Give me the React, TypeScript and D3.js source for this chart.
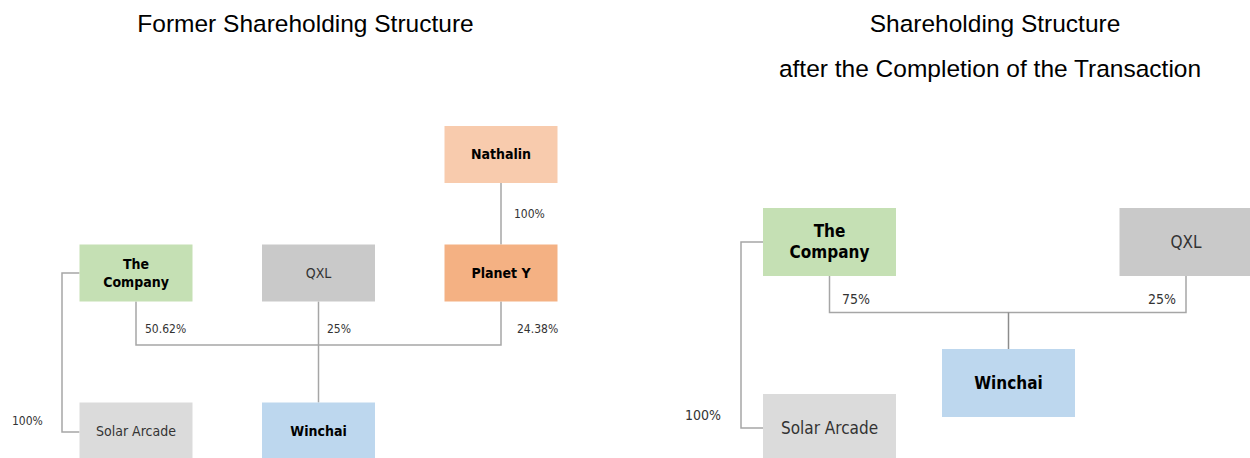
import React from "react";
import * as d3 from "d3";

// ---- data ----
const titles = ["Former Shareholding Structure", "Shareholding Structure", "after the Completion of the Transaction"];
const formerEntities = ["Nathalin", "Planet Y", "The Company", "QXL", "Solar Arcade", "Winchai"];
const formerBold = [true, true, true, false, false, true];
const formerColors = ["#F8CBAD", "#F4B183", "#C5E0B4", "#C9C9C9", "#DBDBDB", "#BDD7EE"];
// stakes: [owner, owned, percent]
const formerStakes: [string, string, string][] = [
  ["Nathalin", "Planet Y", "100%"],
  ["The Company", "Winchai", "50.62%"],
  ["QXL", "Winchai", "25%"],
  ["Planet Y", "Winchai", "24.38%"],
  ["The Company", "Solar Arcade", "100%"],
];
const afterEntities = ["The Company", "QXL", "Winchai", "Solar Arcade"];
const afterBold = [true, false, true, false];
const afterColors = ["#C5E0B4", "#C9C9C9", "#BDD7EE", "#DBDBDB"];
const afterStakes: [string, string, string][] = [
  ["The Company", "Winchai", "75%"],
  ["QXL", "Winchai", "25%"],
  ["The Company", "Solar Arcade", "100%"],
];

// ---- layout ----
const W = 1250, H = 458;
const BOX_FONT = "Tahoma, 'DejaVu Sans Condensed', 'DejaVu Sans', sans-serif";
const LINE = "#A6A6A6";

// left panel grid
const lx = d3.scalePoint<number>().domain([0, 1, 2]).range([136, 501]);
const ly = d3.scaleOrdinal<number, number>().domain([0, 1, 2]).range([154.5, 273, 431]);
const leftGrid: Record<string, [number, number]> = {
  "Nathalin": [2, 0], "Planet Y": [2, 1], "The Company": [0, 1], "QXL": [1, 1], "Solar Arcade": [0, 2], "Winchai": [1, 2],
};
const LBW = 113, LBH = 57;

// right panel grid
const rx = d3.scaleOrdinal<string, number>().domain(["a", "b", "c"]).range([829.5, 1008.5, 1186]);
const ry = d3.scaleOrdinal<string, number>().domain(["top", "mid", "low"]).range([242, 383, 428]);
const rightGrid: Record<string, [string, string]> = {
  "The Company": ["a", "top"], "QXL": ["c", "top"], "Winchai": ["b", "mid"], "Solar Arcade": ["a", "low"],
};
const RBW = 133, RBH = 68;

function BoxText({ name, cx, cy, bold, size, gap }: { name: string; cx: number; cy: number; bold: boolean; size: number; gap: number }) {
  const parts = name === "The Company" ? ["The", "Company"] : [name];
  const off = ((parts.length - 1) * gap) / 2;
  return (
    <text textAnchor="middle" fontFamily={BOX_FONT} fontSize={size} fontWeight={bold ? "bold" : "normal"} fill={bold ? "#000" : "#333"}>
      {parts.map((p, i) => (
        <tspan key={i} x={cx} y={cy - off + i * gap} dy="0.35em">{p}</tspan>
      ))}
    </text>
  );
}

export default function App() {
  const L = (n: string) => ({ cx: lx(leftGrid[n][0])!, cy: ly(leftGrid[n][1]) });
  const R = (n: string) => ({ cx: rx(rightGrid[n][0]), cy: ry(rightGrid[n][1]) });

  // left connectors
  const nat = L("Nathalin"), pla = L("Planet Y"), com = L("The Company"), qxl = L("QXL"), sol = L("Solar Arcade"), win = L("Winchai");
  const busY = 345;
  const bracketX = 62;
  const lPct = (s: string, o: string) => formerStakes.find((d) => d[0] === s && d[1] === o)![2];

  const rc = R("The Company"), rq = R("QXL"), rw = R("Winchai"), rs = R("Solar Arcade");
  const rBus = 312.5;
  const rBracketX = 741;
  const rPct = (s: string, o: string) => afterStakes.find((d) => d[0] === s && d[1] === o)![2];

  const lab = { fontFamily: BOX_FONT, fill: "#333" } as const;

  return (
    <svg width={W} height={H} style={{ position: "absolute", left: 0, top: 0, background: "#fff" }}>
      {/* titles */}
      <g fontFamily="'Liberation Sans', Arial, sans-serif" fontSize={24.5} fill="#000" textAnchor="middle">
        <text x={305.5} y={32}>{titles[0]}</text>
        <text x={995} y={32}>{titles[1]}</text>
        <text x={990} y={77}>{titles[2]}</text>
      </g>

      {/* left lines */}
      <g stroke={LINE} strokeWidth={1.5} fill="none">
        <line x1={nat.cx} y1={nat.cy + LBH / 2} x2={pla.cx} y2={pla.cy - LBH / 2} />
        <polyline points={`${com.cx},${com.cy + LBH / 2} ${com.cx},${busY} ${pla.cx},${busY} ${pla.cx},${pla.cy + LBH / 2}`} />
        <line x1={qxl.cx} y1={qxl.cy + LBH / 2} x2={win.cx} y2={win.cy - LBH / 2} />
        <polyline points={`${com.cx - LBW / 2},${com.cy} ${bracketX},${com.cy} ${bracketX},${sol.cy + 1} ${sol.cx - LBW / 2},${sol.cy + 1}`} />
      </g>

      {/* left boxes */}
      {formerEntities.map((n, i) => {
        const p = L(n);
        return (
          <g key={n}>
            <rect x={p.cx - LBW / 2} y={p.cy - LBH / 2} width={LBW} height={LBH} fill={formerColors[i]} />
            <BoxText name={n} cx={p.cx} cy={p.cy} bold={formerBold[i]} size={14} gap={18} />
          </g>
        );
      })}

      {/* left labels */}
      <g {...lab} fontSize={12}>
        <text x={514} y={218}>{lPct("Nathalin", "Planet Y")}</text>
        <text x={145} y={333}>{lPct("The Company", "Winchai")}</text>
        <text x={327} y={333}>{lPct("QXL", "Winchai")}</text>
        <text x={517} y={333}>{lPct("Planet Y", "Winchai")}</text>
        <text x={12} y={425}>{lPct("The Company", "Solar Arcade")}</text>
      </g>

      {/* right lines */}
      <g stroke={LINE} strokeWidth={1.5} fill="none">
        <polyline points={`${rc.cx},${rc.cy + RBH / 2} ${rc.cx},${rBus} ${rq.cx},${rBus} ${rq.cx},${rq.cy + RBH / 2}`} />
        <line x1={rw.cx} y1={rBus} x2={rw.cx} y2={rw.cy - RBH / 2} stroke="#8C8C8C" />
        <polyline points={`${rc.cx - RBW / 2},${rc.cy} ${rBracketX},${rc.cy} ${rBracketX},${rs.cy} ${rs.cx - RBW / 2},${rs.cy}`} />
      </g>

      {/* right boxes */}
      {afterEntities.map((n, i) => {
        const p = R(n);
        return (
          <g key={n}>
            <rect x={p.cx - RBW / 2} y={p.cy - RBH / 2} width={RBW} height={RBH} fill={afterColors[i]} />
            <BoxText name={n} cx={p.cx} cy={p.cy} bold={afterBold[i]} size={17} gap={21} />
          </g>
        );
      })}

      {/* right labels */}
      <g {...lab} fontSize={14}>
        <text x={842} y={304}>{rPct("The Company", "Winchai")}</text>
        <text x={1148} y={304}>{rPct("QXL", "Winchai")}</text>
        <text x={685} y={420}>{rPct("The Company", "Solar Arcade")}</text>
      </g>
    </svg>
  );
}
